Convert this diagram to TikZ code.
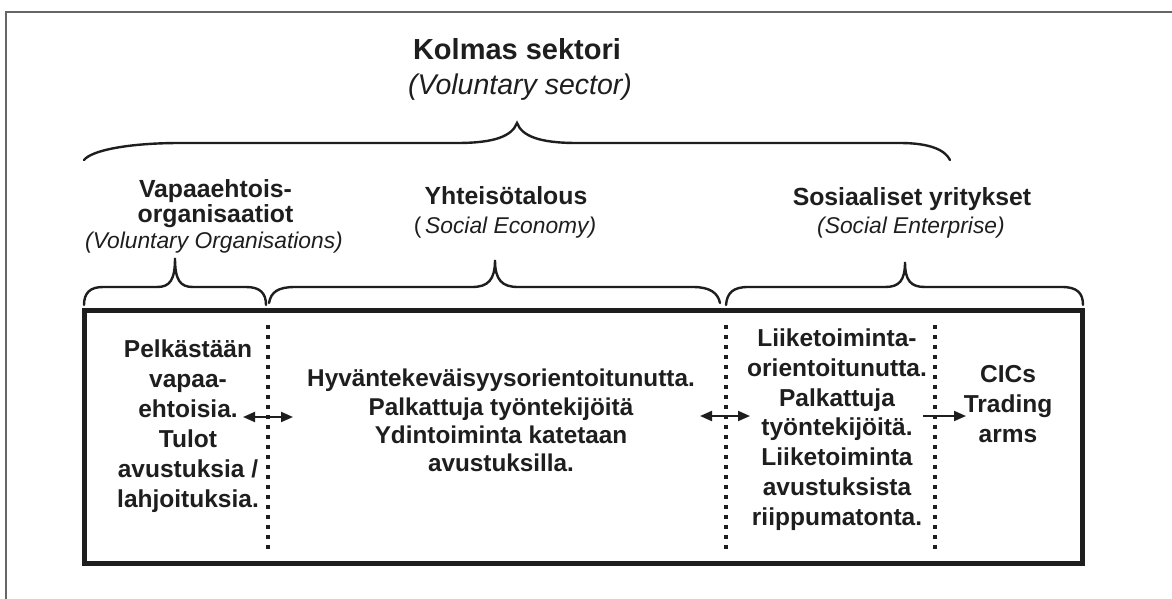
\documentclass[tikz,border=0pt]{standalone}
\usepackage{fontspec}
\setmainfont{Liberation Sans}
\usetikzlibrary{arrows.meta}
\definecolor{ink}{HTML}{1E1E1E}
\definecolor{framegray}{HTML}{666666}
\begin{document}
\begin{tikzpicture}[x=1pt,y=-1pt,
  every node/.style={inner sep=0pt, text=ink},
  titletext/.style={anchor=base, font=\bfseries\fontsize{29}{34}\selectfont},
  titlesub/.style={anchor=base, font=\itshape\fontsize{28.5}{32}\selectfont},
  headtext/.style={anchor=base, align=center, font=\bfseries\fontsize{24.8}{25}\selectfont},
  headsub/.style={anchor=base, font=\itshape\fontsize{22.8}{26}\selectfont},
  bodytext/.style={anchor=base, align=center, font=\bfseries\fontsize{24.5}{30}\selectfont},
  bracestyle/.style={draw=ink, line width=2.4pt, line cap=round},
  dotline/.style={draw=ink, line width=4pt, dash pattern=on 4pt off 6pt},
  twoway/.style={draw=ink, line width=2pt, {Triangle[length=12pt,width=10pt]}-{Triangle[length=12pt,width=10pt]}},
  oneway/.style={draw=ink, line width=2pt, -{Triangle[length=12pt,width=10pt]}}
]
\useasboundingbox (0,0) rectangle (1172,599);
\fill[white] (0,0) rectangle (1172,599);
% outer frame
\draw[framegray, line width=1.8pt] (6,599) -- (6,12) -- (1172,12);

% titles
\node[titletext] (title) at (517,60) {Kolmas sektori};
\node[titlesub] (titlesub) at (520,95) {(Voluntary sector)};

% top brace
\draw[bracestyle] (84,160) .. controls (92,150) and (130,143) .. (180,143) -- (457,143)
  .. controls (495,143) and (512,136) .. (517,123)
  .. controls (522,136) and (539,143) .. (577,143) -- (900,143)
  .. controls (930,143) and (945,150) .. (950,160);

% headings (multi-line nodes: base = last line)
\node[headtext] (h1) at (215.5,222) {Vapaaehtois-\\organisaatiot};
\node[headsub] (h1sub) at (214,248) {(Voluntary Organisations)};
\node[headtext] (h2) at (506,204) {Yhteisötalous};
\node[headsub] (h2sub) at (505,233) {{\upshape(}\,Social Economy)};
\node[headtext] (h3) at (912,205) {Sosiaaliset yritykset};
\node[headsub] (h3sub) at (911,233) {(Social Enterprise)};

% small braces
\draw[bracestyle] (84,305) .. controls (84,293) and (90,287) .. (103,287) -- (157,287)
  .. controls (170,287) and (175,280) .. (175,258)
  .. controls (175,280) and (180,287) .. (193,287) -- (246,287)
  .. controls (260,287) and (266,293) .. (266,305);
\draw[bracestyle] (269,303) .. controls (271,292) and (278,287) .. (295,287) -- (472,287)
  .. controls (488,287) and (495,280) .. (495,260)
  .. controls (495,280) and (502,287) .. (518,287) -- (693,287)
  .. controls (710,287) and (718,293) .. (720,303);
\draw[bracestyle] (726,305) .. controls (727,293) and (733,287) .. (748,287) -- (885,287)
  .. controls (899,287) and (905,281) .. (905,262)
  .. controls (905,281) and (911,287) .. (925,287) -- (1062,287)
  .. controls (1077,287) and (1083,293) .. (1083,305);

% main box
\draw[ink, line width=5pt] (84.5,310.5) rectangle (1082.5,563.5);

% dotted separators
\coordinate (d1t) at (268,325); \coordinate (d1b) at (268,552);
\coordinate (d2t) at (726,325); \coordinate (d2b) at (726,552);
\coordinate (d3t) at (935,325); \coordinate (d3b) at (935,552);
\draw[dotline] (d1t) -- (d1b);
\draw[dotline] (d2t) -- (d2b);
\draw[dotline] (d3t) -- (d3b);

% body texts (base = last line)
\node[bodytext] (c1) at (188,507) {Pelkästään\\vapaa-\\ehtoisia.\\Tulot\\avustuksia /\\lahjoituksia.};
\node[bodytext, font=\bfseries\fontsize{24.3}{28.3}\selectfont] (c2) at (501,471.6) {Hyväntekeväisyysorientoitunutta.\\Palkattuja työntekijöitä\\Ydintoiminta katetaan\\avustuksilla.};
\node[bodytext, font=\bfseries\fontsize{24.5}{29.7}\selectfont] (c3) at (837,525) {Liiketoiminta-\\orientoitunutta.\\Palkattuja\\työntekijöitä.\\Liiketoiminta\\avustuksista\\riippumatonta.};
\node[bodytext] (c4) at (1008,442) {CICs\\Trading\\arms};

% arrows
\coordinate (a1l) at (243,417); \coordinate (a1r) at (293,417);
\coordinate (a2l) at (700,416); \coordinate (a2r) at (750,416);
\coordinate (a3l) at (923,416); \coordinate (a3r) at (966,416);
\draw[twoway] (a1l) -- (a1r);
\draw[twoway] (a2l) -- (a2r);
\draw[oneway] (a3l) -- (a3r);
\end{tikzpicture}
\end{document}
